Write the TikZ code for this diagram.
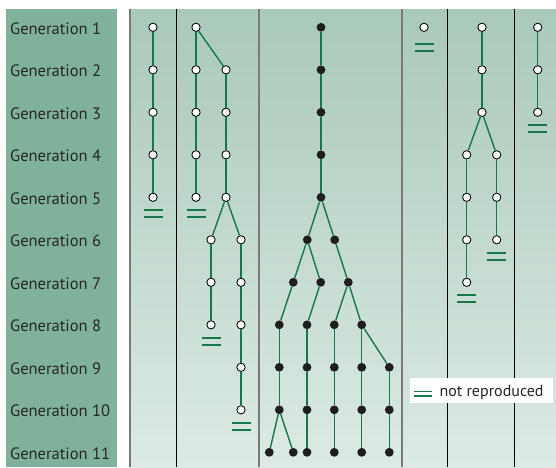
\documentclass[tikz,border=0pt]{standalone}
\usepackage{fontspec}
\setmainfont{PT Sans}
\definecolor{panelTop}{HTML}{A9C9BA}
\definecolor{panelBot}{HTML}{DCEAE3}
\definecolor{labelBg}{HTML}{80B29B}
\definecolor{linegreen}{HTML}{17774A}
\definecolor{nodeblack}{HTML}{1E1E1E}
\definecolor{labeltext}{HTML}{262626}
\definecolor{divgray}{HTML}{7A7A7A}

% a vertical chain of nodes #1<first>..#1<last> at x=#2, joined generation by generation
\newcommand\gchain[5]{%
  \foreach \g in {#3,...,#4}{\node[#5] (#1\g) at (#2,{27.3+42.5*(\g-1)}) {};}
  \foreach \g in {#3,...,#4}{\ifnum\g>#3 \pgfmathtruncatemacro\p{\g-1}\draw[conn] (#1\p) -- (#1\g);\fi}%
}

\begin{document}
\begin{tikzpicture}[x=1pt,y=-1pt,
  conn/.style={draw=linegreen,line width=1.4pt},
  opn/.style={circle,draw=black,fill=white,line width=0.85pt,minimum size=8.3pt,inner sep=0pt},
  blk/.style={circle,fill=nodeblack,minimum size=8.8pt,inner sep=0pt},
  eqline/.style={draw=linegreen,line width=1.8pt},
  gen/.style={anchor=base west,text=labeltext,font=\fontsize{16.5}{17}\selectfont,inner sep=0pt},
  legfont/.style={anchor=base west,text=labeltext,font=\fontsize{16}{16}\selectfont,inner sep=0pt},
  notrep/.pic={\draw[eqline] (-9.5,13) -- (9.5,13); \draw[eqline] (-9.5,20) -- (9.5,20);},
  smalleq/.pic={\draw[draw=linegreen,line width=1.4pt] (-9,-2.2) -- (9,-2.2); \draw[draw=linegreen,line width=1.4pt] (-9,2.2) -- (9,2.2);}
]
\useasboundingbox (0,0) rectangle (556,467);

% backgrounds
\fill[labelBg] (6,9) rectangle (117,467);
\shade[top color=panelTop,bottom color=panelBot] (130,9) rectangle (556,467);

% column dividers
\draw[divgray,line width=1.6pt] (130,9) -- (130,467);
\draw[divgray,line width=1.3pt] (259,9) -- (259,467);
\draw[divgray,line width=1.3pt] (402,9) -- (402,467);
\draw[black,line width=0.9pt] (176,9) -- (176,467);
\draw[black,line width=0.9pt] (447,9) -- (447,467);
\draw[black,line width=0.9pt] (514,9) -- (514,467);

% generation labels
\foreach \n in {1,...,11}
  \node[gen] (lab\n) at (10,{34.3+42.5*(\n-1)}) {Generation \n};

% column 1
\gchain{a}{153}{1}{5}{opn}
\pic at (a5) {notrep};

% column 2
\gchain{b}{196}{1}{5}{opn}
\gchain{c}{226}{2}{5}{opn}
\gchain{d}{211}{6}{8}{opn}
\gchain{e}{241}{6}{10}{opn}
\draw[conn] (b1) -- (c2);
\draw[conn] (c5) -- (d6);
\draw[conn] (c5) -- (e6);
\pic at (b5) {notrep};
\pic at (d8) {notrep};
\pic at (e10) {notrep};

% column 3
\gchain{k}{321}{1}{5}{blk}
\node[blk] (m1) at (307.3,239.8) {};
\node[blk] (m2) at (334.7,239.8) {};
\node[blk] (n1) at (293.3,282.3) {};
\node[blk] (n2) at (320.7,282.3) {};
\node[blk] (n3) at (348.3,282.3) {};
\gchain{p}{279.3}{8}{10}{blk}
\gchain{q}{307}{8}{11}{blk}
\gchain{r}{334.3}{8}{11}{blk}
\gchain{s}{361.7}{8}{11}{blk}
\gchain{t}{389.3}{9}{11}{blk}
\node[blk] (u1) at (269.3,452.3) {};
\node[blk] (u2) at (293.3,452.3) {};
\draw[conn] (k5) -- (m1);
\draw[conn] (k5) -- (m2);
\draw[conn] (m1) -- (n1);
\draw[conn] (m1) -- (n2);
\draw[conn] (m2) -- (n3);
\draw[conn] (n1) -- (p8);
\draw[conn] (n2) -- (q8);
\draw[conn] (n3) -- (r8);
\draw[conn] (n3) -- (s8);
\draw[conn] (s8) -- (t9);
\draw[conn] (p10) -- (u1);
\draw[conn] (p10) -- (u2);

% column 4
\node[opn] (v1) at (424,27.3) {};
\pic[yshift=-4pt] at (v1) {notrep};

% column 5
\gchain{w}{482}{1}{3}{opn}
\gchain{x}{466.7}{4}{7}{opn}
\gchain{y}{496.7}{4}{6}{opn}
\draw[conn] (w3) -- (x4);
\draw[conn] (w3) -- (y4);
\pic at (x7) {notrep};
\pic at (y6) {notrep};

% column 6
\gchain{z}{537.7}{1}{3}{opn}
\pic at (z3) {notrep};

% legend
\node[fill=white,inner sep=0pt,minimum width=142.7pt,minimum height=25.6pt] (legend) at (481.4,390.5) {};
\pic at (423.2,393.8) {smalleq};
\node[legfont] (legtext) at (439.3,396.3) {not reproduced};
\end{tikzpicture}
\end{document}
